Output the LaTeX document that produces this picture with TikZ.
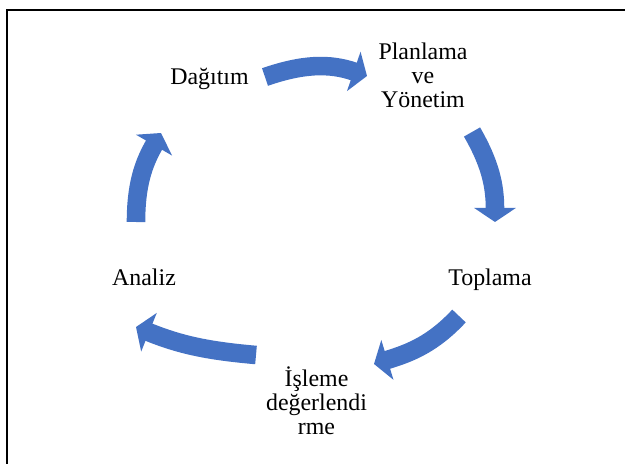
\documentclass[tikz,border=0pt]{standalone}
\usepackage{fontspec}
\setmainfont{Liberation Serif}
\usetikzlibrary{arrows.meta}
\definecolor{cycleblue}{RGB}{68,114,196}

\begin{document}
\begin{tikzpicture}[
    stage/.style={font=\fontsize{17}{17}\selectfont, align=center, inner sep=0pt},
    flow/.style={draw=cycleblue, line width=13.2pt,
        -{Triangle[width=1.025cm, length=0.35cm]}}
]
    \useasboundingbox (0,0) rectangle (15.625,11.575);
    \draw[line width=1.4pt] (15.8,11.325) -- (0.1675,11.325) -- (0.1675,-0.2);

    \node[stage, anchor=base] (dagitim) at (5.2375,9.45) {Dağıtım};
    \node[stage] (planlama) at (10.575,9.69) {Planlama\\ve\\Yönetim};
    \node[stage, anchor=base] (toplama) at (12.25,4.45) {Toplama};
    \node[stage] (isleme) at (7.9125,1.55) {İşleme\\değerlendi\\rme};
    \node[stage, anchor=base] (analiz) at (3.6,4.45) {Analiz};

    % arrow ends
    \coordinate (dp-s) at (6.625,9.65);
    \coordinate (dp-e) at (9.175,9.675);
    \coordinate (pt-s) at (11.8,8.275);
    \coordinate (pt-e) at (12.375,6.025);
    \coordinate (ti-s) at (11.475,3.675);
    \coordinate (ti-e) at (9.35,2.475);
    \coordinate (ia-s) at (6.4,2.7);
    \coordinate (ia-e) at (3.4,3.4);
    \coordinate (ad-s) at (3.4,6.025);
    \coordinate (ad-e) at (4.025,8.25);

    \draw[flow] (dp-s) to[out=19,in=161] (dp-e);
    \draw[flow] (pt-s) to[out=-60,in=90] (pt-e);
    \draw[flow] (ti-s) to[out=227,in=17] (ti-e);
    \draw[flow] (ia-s) to[out=175,in=-22] (ia-e);
    \draw[flow] (ad-s) to[out=90,in=-120] (ad-e);
\end{tikzpicture}
\end{document}
